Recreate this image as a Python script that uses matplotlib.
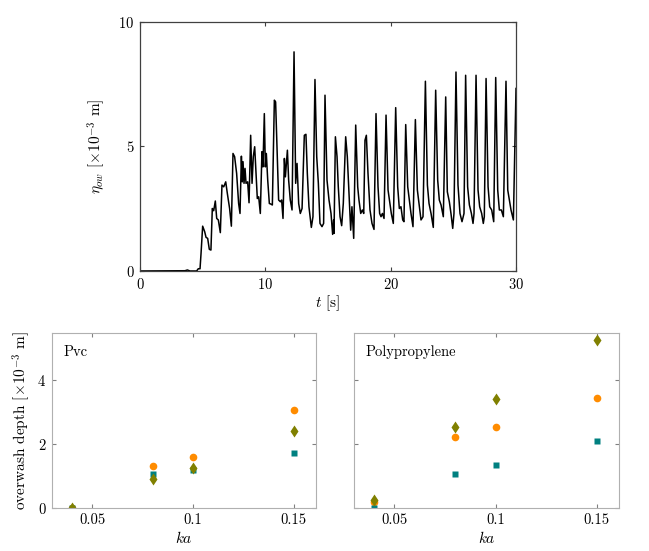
import numpy as np
import matplotlib
matplotlib.use("Agg")
import matplotlib.pyplot as plt

plt.rcParams['font.family'] = 'cmr10'
plt.rcParams['mathtext.fontset'] = 'cm'
plt.rcParams['axes.formatter.use_mathtext'] = True
plt.rcParams['font.size'] = 10.5

# overwash time series
t = [0, 3.59, 3.78, 3.99, 4.52, 4.65, 4.79, 4.87, 5.0, 5.16, 5.27, 5.4, 5.53, 5.66,
     5.77, 5.88, 6.01, 6.12, 6.25, 6.41, 6.54, 6.68, 6.84, 6.97, 7.15, 7.29,
     7.42, 7.55, 7.71, 7.87, 7.98, 8.09, 8.16, 8.22, 8.30, 8.38, 8.46, 8.59, 8.70,
     8.83, 8.94, 9.04, 9.15, 9.26, 9.36, 9.47, 9.60, 9.73, 9.81, 9.92, 10.0, 10.08,
     10.19, 10.32, 10.43, 10.56, 10.72, 10.82, 10.93, 11.06, 11.2, 11.3, 11.41,
     11.52, 11.6, 11.76, 11.86, 11.99, 12.13, 12.29, 12.42, 12.53, 12.66, 12.79,
     12.93, 13.11, 13.24, 13.35, 13.48, 13.67, 13.80, 13.96, 14.10, 14.23, 14.36,
     14.52, 14.65, 14.76, 14.92, 15.08, 15.24, 15.37, 15.45, 15.48, 15.59, 15.72,
     15.82, 15.96, 16.09, 16.22, 16.41, 16.54, 16.65, 16.81, 16.91, 17.05, 17.21,
     17.37, 17.47, 17.61, 17.74, 17.85, 17.95, 18.06, 18.19, 18.35, 18.51, 18.67,
     18.83, 18.99, 19.12, 19.23, 19.34, 19.47, 19.63, 19.79, 19.92, 20.05, 20.21,
     20.40, 20.56, 20.69, 20.82, 20.96, 21.06, 21.20, 21.36, 21.49, 21.62, 21.78,
     21.97, 22.13, 22.26, 22.42, 22.58, 22.77, 22.93, 23.06, 23.22, 23.40, 23.59,
     23.75, 23.88, 24.02, 24.20, 24.39, 24.52, 24.68, 24.81, 24.95, 25.05, 25.21,
     25.37, 25.53, 25.69, 25.85, 25.98, 26.14, 26.28, 26.44, 26.57, 26.65, 26.81,
     26.97, 27.10, 27.26, 27.39, 27.47, 27.61, 27.77, 27.90, 28.06, 28.22, 28.38,
     28.54, 28.67, 28.83, 28.99, 29.20, 29.34, 29.47, 29.60, 29.79, 30.0]
eta = [0, 0.01, 0.04, 0, 0, 0.09, 0.09, 0.7, 1.8, 1.58, 1.35, 1.31, 0.87, 0.84,
       2.51, 2.42, 2.81, 2.11, 2.05, 1.54, 3.45, 3.38, 3.58, 3.11, 2.51, 1.80,
       4.72, 4.59, 3.92, 2.71, 2.31, 4.61, 3.58, 4.39, 3.52, 4.12, 3.52, 3.58, 2.74,
       5.45, 3.52, 4.59, 4.99, 3.92, 2.91, 2.98, 2.31, 4.79, 4.18, 6.32, 4.18, 4.72,
       3.65, 2.71, 2.69, 2.65, 6.86, 6.79, 4.99, 2.85, 2.78, 2.85, 2.11,
       4.52, 3.78, 4.85, 3.65, 2.85, 2.45, 8.8, 3.52, 4.32, 2.71, 2.31,
       2.51, 5.45, 5.49, 3.92, 2.58, 1.75, 2.18, 7.69, 4.59, 3.52, 1.91,
       1.78, 1.91, 7.06, 3.65, 2.85, 2.31, 1.47, 2.05, 1.51, 5.39, 4.59,
       3.38, 2.18, 1.82, 2.71, 5.39, 4.59, 3.38, 1.64, 2.58, 1.31, 5.86,
       3.38, 2.85, 2.31, 2.45, 2.31, 5.25, 5.45, 3.92, 2.45, 1.91, 1.67,
       6.32, 3.38, 2.31, 2.18, 2.31, 2.11, 6.26, 3.25, 2.78, 2.31, 1.91,
       6.56, 3.38, 2.51, 2.58, 2.05, 1.98, 5.88, 3.38, 2.85, 2.31, 1.78,
       6.08, 3.25, 2.71, 2.05, 2.18, 7.62, 3.45, 2.71, 2.31, 1.75, 7.26,
       3.65, 2.85, 2.65, 2.18, 6.99, 3.18, 2.78, 2.31, 1.71, 2.31, 7.99,
       3.45, 2.31, 1.98, 2.31, 7.86, 3.38, 2.65, 2.31, 1.91, 2.31, 7.86,
       3.25, 2.58, 2.31, 1.91, 2.18, 7.73, 3.38, 2.58, 2.45, 1.98, 7.77,
       3.25, 2.45, 2.45, 2.18, 7.62, 3.25, 2.85, 2.45, 2.05, 7.33]

# overwash depth vs steepness
ka = [0.04, 0.08, 0.1, 0.15]
pvc_circle = [0.0, 1.30, 1.59, 3.06]
pvc_square = [0.0, 1.06, 1.19, 1.71]
pvc_diamond = [0.0, 0.92, 1.26, 2.41]
pp_circle = [0.18, 2.21, 2.53, 3.42]
pp_square = [0.0, 1.07, 1.34, 2.09]
pp_diamond = [0.26, 2.53, 3.40, 5.25]

fig = plt.figure(figsize=(6.49, 5.51), dpi=100)

# top panel
ax = fig.add_axes([0.2157, 0.5082, 0.5794, 0.4519])
ax.plot(t, eta, color='black', lw=1.1)
ax.set_xlim(0, 30)
ax.set_ylim(0, 10)
ax.set_xticks([0, 10, 20, 30])
ax.set_yticks([0, 5, 10])
ax.set_xlabel(r'$t$ [s]', fontsize=11, labelpad=1)
ax.set_ylabel(r'$\eta_{ow}$ [$\times 10^{-3}$ m]', fontsize=11, labelpad=8)
for s in ax.spines.values():
    s.set_color('#404040')
    s.set_linewidth(0.9)
ax.tick_params(direction='in', top=True, right=True, length=3, color='#404040', pad=4)

# bottom panels
panels = [
    ('Pvc', pvc_circle, pvc_square, pvc_diamond, [0.0801, 0.078, 0.4068, 0.3176]),
    ('Polypropylene', pp_circle, pp_square, pp_diamond, [0.5455, 0.078, 0.4083, 0.3176]),
]
for i, (name, c, sq, dm, rect) in enumerate(panels):
    a = fig.add_axes(rect)
    a.plot(ka, c, 'o', color='#FF8C00', ms=5.5, mec='none')
    a.plot(ka, sq, 's', color='#008080', ms=4, mec='none')
    a.plot(ka, dm, 'd', color='#808000', ms=6.5, mec='none')
    a.set_xlim(0.03, 0.161)
    a.set_ylim(0, 5.46)
    a.set_xticks([0.05, 0.1, 0.15])
    a.set_xticklabels(['0.05', '0.1', '0.15'])
    a.set_yticks([0, 2, 4])
    a.set_xlabel(r'$ka$', fontsize=11, labelpad=2)
    a.text(0.045, 0.93, name, transform=a.transAxes, fontsize=10.5, va='top')
    for s in a.spines.values():
        s.set_color('#b0b0b0')
        s.set_linewidth(0.8)
    a.tick_params(direction='in', top=True, right=True, length=3, color='#808080', pad=4)
    if i == 0:
        a.set_ylabel(r'overwash depth [$\times 10^{-3}$ m]', fontsize=11, labelpad=4)
    else:
        a.set_yticklabels([])

fig.savefig('out.png', dpi=100)
